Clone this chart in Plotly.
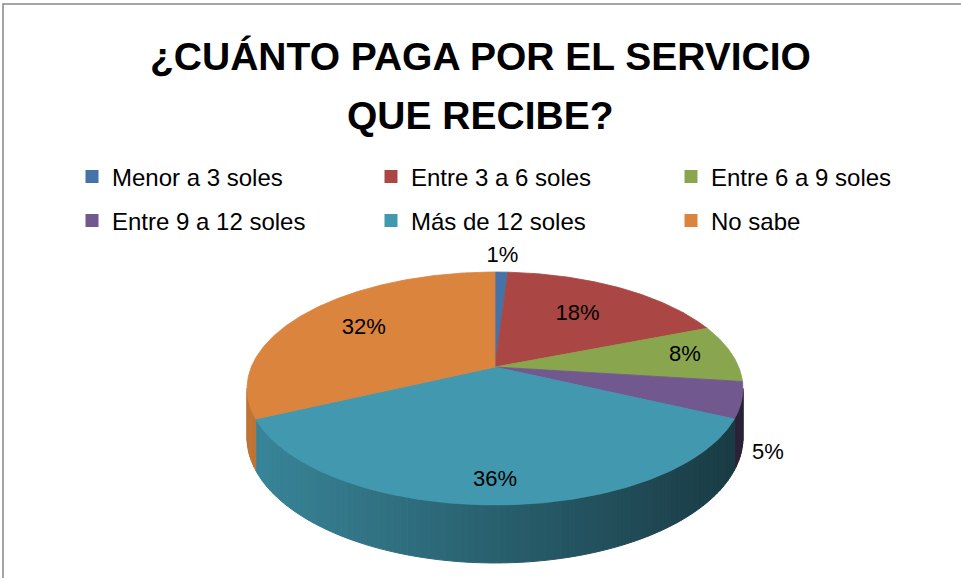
import numpy as np
import plotly.graph_objects as go

# ---------------- data ----------------
categories = ["Menor a 3 soles", "Entre 3 a 6 soles", "Entre 6 a 9 soles",
              "Entre 9 a 12 soles", "Más de 12 soles", "No sabe"]
values = [1, 18, 8, 5, 36, 32]
colors = ["#4572A7", "#AA4643", "#89A54E", "#71588F", "#4198AF", "#DB843D"]
title_lines = ["¿CUÁNTO PAGA POR EL SERVICIO", "QUE RECIBE?"]

# ---------------- geometry / style (layout, not data) ----------------
W, H_FIG = 961, 578
CX, CY = 495.0, 367.0      # apex of the pie (px)
RX, RY = 243.7, 112.5      # radii of the top surface
K = 0.1845                 # perspective factor
DEPTH = 47.3               # thickness of the pie
LABEL_R = [1.2, 0.63, 0.8, 1.1, 0.85, 0.68]
LABEL_PLANE = [0, 0, 0, 1, 0, 0]
LEGEND_COL_X = [72, 371, 671]     # px, legend box left edges
LEGEND_ROW_Y = [177, 221]         # px, row centers
FONT = "Liberation Sans, Arial, sans-serif"


def proj(theta_deg, r=1.0, plane=0.0):
    t = np.radians(theta_deg)
    a = r * np.sin(t)
    b = r * np.cos(t)
    w = 1 + K * b
    x = CX + RX * a / w
    y = CY - RY * b / w + plane * DEPTH / w
    return x, y


def hex_to_rgb(h):
    h = h.lstrip("#")
    return tuple(int(h[i:i + 2], 16) for i in (0, 2, 4))


def shade(hexcol, f):
    r, g, b = hex_to_rgb(hexcol)
    return "rgb(%d,%d,%d)" % (round(r * f), round(g * f), round(b * f))


total = float(sum(values))
cum = np.concatenate([[0], np.cumsum(values)]) / total * 360.0

fig = go.Figure()

# ---- side walls (front visible half) ----
th_vis_r = np.degrees(np.arccos(-K))
th_vis_l = 360 - th_vis_r
x_left, _ = proj(th_vis_l)
x_right, _ = proj(th_vis_r)
STEP = 1.5
for i in range(len(values)):
    a0 = max(cum[i], th_vis_r)
    a1 = min(cum[i + 1], th_vis_l)
    if a1 <= a0:
        continue
    n = max(1, int(np.ceil((a1 - a0) / STEP)))
    edges = np.linspace(a0, a1, n + 1)
    for j in range(n):
        ta = np.linspace(edges[j], edges[j + 1], 4)
        xt, yt = proj(ta, 1.0, 0.0)
        xb, yb = proj(ta[::-1], 1.0, 1.0)
        xm, _ = proj((edges[j] + edges[j + 1]) / 2)
        f = 0.88 - 0.50 * (xm - x_left) / (x_right - x_left)
        col = shade(colors[i], f)
        fig.add_trace(go.Scatter(
            x=np.concatenate([xt, xb, xt[:1]]), y=np.concatenate([yt, yb, yt[:1]]),
            mode="lines", fill="toself", fillcolor=col,
            line=dict(color=col, width=1), hoverinfo="skip", showlegend=False))

# ---- top surface wedges ----
for i in range(len(values)):
    ta = np.linspace(cum[i], cum[i + 1], max(3, int((cum[i + 1] - cum[i]) * 2)))
    xa, ya = proj(ta)
    fig.add_trace(go.Scatter(
        x=np.concatenate([[CX], xa, [CX]]), y=np.concatenate([[CY], ya, [CY]]),
        mode="lines", fill="toself", fillcolor=colors[i],
        line=dict(color=colors[i], width=0.8), hoverinfo="skip", showlegend=False,
        name=categories[i]))

# ---- data labels ----
mids = (cum[:-1] + cum[1:]) / 2
lx, ly = [], []
for i in range(len(values)):
    x, y = proj(mids[i], LABEL_R[i], LABEL_PLANE[i])
    lx.append(x)
    ly.append(y)
fig.add_trace(go.Scatter(
    x=lx, y=ly, mode="text", text=[f"{v}%" for v in values],
    textfont=dict(family=FONT, size=22, color="#000000"),
    hoverinfo="skip", showlegend=False))

# ---- legend entries (one small legend per entry, laid out 3 x 2) ----
legend_layouts = {}
for i, (c, col) in enumerate(zip(categories, colors)):
    lname = "legend" if i == 0 else f"legend{i + 1}"
    fig.add_trace(go.Scatter(
        x=[None], y=[None], mode="markers", name=c,
        marker=dict(symbol="square", size=13, color=col),
        legend=lname))
    legend_layouts[lname] = dict(
        x=LEGEND_COL_X[i % 3] / W, y=1 - LEGEND_ROW_Y[i // 3] / H_FIG,
        orientation="h", xanchor="left", yanchor="middle",
        font=dict(family=FONT, size=24, color="#000000"),
        bgcolor="rgba(0,0,0,0)", itemclick=False, itemdoubleclick=False)

fig.update_layout(
    width=W, height=H_FIG,
    margin=dict(l=0, r=0, t=0, b=0),
    paper_bgcolor="white", plot_bgcolor="white",
    xaxis=dict(range=[0, W], visible=False, fixedrange=True),
    yaxis=dict(range=[H_FIG, 0], visible=False, fixedrange=True),
    title=dict(text=title_lines[0], x=0.5, xanchor="center",
               y=1 - 56 / H_FIG, yanchor="middle", yref="container",
               font=dict(family=FONT, size=39, color="#000000", weight="bold")),
    showlegend=True,
    annotations=[dict(text="<b>" + title_lines[1] + "</b>", x=0.5, y=1 - 115 / H_FIG,
                      xref="paper", yref="paper", xanchor="center", yanchor="middle",
                      showarrow=False,
                      font=dict(family=FONT, size=39, color="#000000"))],
    shapes=[dict(type="rect", xref="x", yref="y", x0=3, y0=4, x1=W + 10, y1=H_FIG + 10,
                 line=dict(color="#868686", width=1.5), fillcolor="rgba(0,0,0,0)",
                 layer="above")],
    **legend_layouts,
)

fig.write_html("out.html", config={"displayModeBar": False},
               post_script="document.body.style.margin='0';document.body.style.overflow='hidden';")
